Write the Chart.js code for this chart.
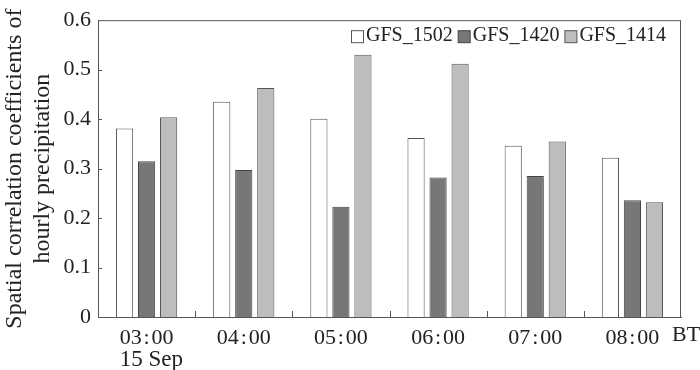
<!DOCTYPE html>
<html>
<head>
<meta charset="utf-8">
<script src="https://cdn.jsdelivr.net/npm/chart.js@4.4.0/dist/chart.umd.min.js"></script>
<style>
	html, body { margin: 0; padding: 0; background: #fff; }
	#wrap { width: 700px; height: 370px; }
</style>
</head>
<body>
<div id="wrap"><canvas id="chart" width="700" height="370"></canvas></div>
<script>
const hours = ["03\u200a:\u200a00", "04\u200a:\u200a00", "05\u200a:\u200a00", "06\u200a:\u200a00", "07\u200a:\u200a00", "08\u200a:\u200a00"];
const gfs1502 = [0.381, 0.435, 0.401, 0.362, 0.346, 0.322];
const gfs1420 = [0.315, 0.297, 0.223, 0.282, 0.285, 0.236];
const gfs1414 = [0.404, 0.463, 0.530, 0.512, 0.355, 0.232];
const yTicks = [0, 0.1, 0.2, 0.3, 0.4, 0.5, 0.6];

const serif = "'Liberation Serif', 'DejaVu Serif', serif";
const lineColor = "#555";
const textColor = "#222";

// frame, inward ticks, legend inside the plot, "15 Sep" and "BT"
const extras = {
	id: "extras",
	afterDraw(chart) {
		const ctx = chart.ctx;
		const a = chart.chartArea;
		const x = chart.scales.x;
		const y = chart.scales.y;
		ctx.save();
		ctx.strokeStyle = lineColor;
		ctx.lineWidth = 1;
		ctx.strokeRect(a.left + 0.5, a.top + 0.5, a.right - a.left - 1, a.bottom - a.top);
		const step = x.getPixelForValue(1) - x.getPixelForValue(0);
		ctx.beginPath();
		for (let i = 1; i < hours.length; i++) {
			const px = Math.round(x.getPixelForValue(i) - step / 2) + 0.5;
			ctx.moveTo(px, a.bottom);
			ctx.lineTo(px, a.bottom - 6);
		}
		yTicks.slice(1, -1).forEach(v => {
			const py = Math.round(y.getPixelForValue(v)) + 0.5;
			ctx.moveTo(a.left, py);
			ctx.lineTo(a.left + 4, py);
		});
		ctx.stroke();

		// legend
		ctx.font = "20px " + serif;
		ctx.textBaseline = "middle";
		ctx.textAlign = "left";
		let lx = a.left + 253;
		const ly = a.top + 16;
		chart.data.datasets.forEach(ds => {
			ctx.fillStyle = ds.backgroundColor;
			ctx.fillRect(lx + 0.5, ly - 6 + 0.5, 12, 12);
			ctx.strokeStyle = ds.borderColor;
			ctx.strokeRect(lx + 0.5, ly - 6 + 0.5, 12, 12);
			ctx.fillStyle = textColor;
			ctx.fillText(ds.label, lx + 15, ly);
			lx += 15 + ctx.measureText(ds.label).width + 5;
		});

		ctx.fillStyle = textColor;
		ctx.font = "22px " + serif;
		ctx.textBaseline = "top";
		const first = x.getPixelForValue(0);
		const w = ctx.measureText(hours[0]).width;
		ctx.font = "23px " + serif;
		ctx.fillText("15 Sep", first - w / 2, a.bottom + 31);
		ctx.font = "22px " + serif;
		ctx.fillText("BT", a.right - 9, a.bottom + 7);
		ctx.restore();
	}
};

new Chart(document.getElementById("chart"), {
	type: "bar",
	data: {
		labels: hours,
		datasets: [
			{ label: "GFS_1502", data: gfs1502, backgroundColor: "#ffffff", borderColor: lineColor, borderWidth: 1 },
			{ label: "GFS_1420", data: gfs1420, backgroundColor: "#777777", borderColor: "#444", borderWidth: 1 },
			{ label: "GFS_1414", data: gfs1414, backgroundColor: "#bdbdbd", borderColor: lineColor, borderWidth: 1 }
		]
	},
	options: {
		responsive: false,
		animation: false,
		layout: { padding: { left: 0, top: 19, right: 19, bottom: 0 } },
		datasets: { bar: { categoryPercentage: 0.68, barPercentage: 0.78 } },
		plugins: {
			tooltip: { enabled: false },
			legend: { display: false }
		},
		scales: {
			x: {
				grid: { display: false },
				border: { display: true, color: lineColor },
				ticks: { color: textColor, font: { family: serif, size: 22 }, padding: 0, maxRotation: 0 },
				afterFit: s => { s.height = 53; }
			},
			y: {
				min: 0,
				max: 0.6,
				afterBuildTicks: s => { s.ticks = yTicks.map(v => ({ value: v })); },
				grid: { display: false, drawTicks: false },
				border: { display: true, color: lineColor },
				ticks: {
					color: textColor,
					font: { family: serif, size: 22 },
					padding: 7,
					callback: v => v === 0 ? "0" : v.toFixed(1)
				},
				title: {
					display: true,
					text: ["Spatial correlation coefficients of", "hourly precipitation"],
					color: textColor,
					font: { family: serif, size: 24 },
					padding: { top: 0, bottom: 0 }
				},
				afterFit: s => { s.width = 98; }
			}
		}
	},
	plugins: [extras]
});
</script>
</body>
</html>
